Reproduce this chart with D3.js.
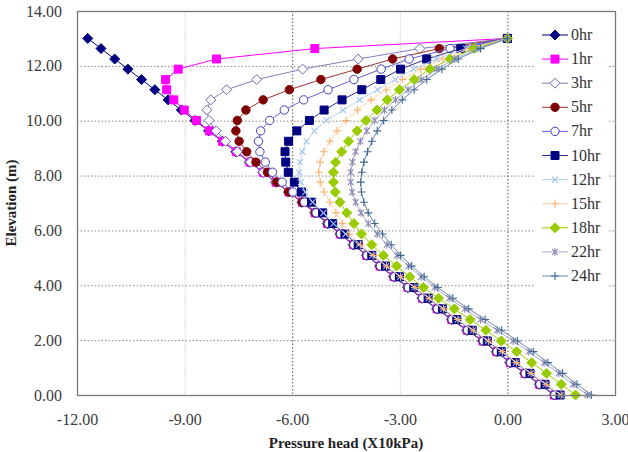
<!DOCTYPE html>
<html>
<head>
<meta charset="utf-8">
<script src="https://cdn.jsdelivr.net/npm/d3@7"></script>
<style>
  body { margin: 0; background: #fff; }
  svg text { font-family: "Liberation Serif", "DejaVu Serif", serif; }
</style>
</head>
<body>
<div id="my_dataviz"></div>
<script>
// node elevations (m), top to bottom
var elevation = [13.00, 12.63, 12.25, 11.88, 11.50, 11.13, 10.76, 10.39, 10.01, 9.63, 9.25, 8.87, 8.49, 8.12, 7.76, 7.40, 7.03, 6.64, 6.25, 5.87, 5.48, 5.09, 4.70, 4.31, 3.92, 3.53, 3.14, 2.75, 2.36, 1.97, 1.58, 1.18, 0.79, 0.39, 0.00];

// pressure head (X10kPa) for each time
var h0hr = [-11.70, -11.33, -10.95, -10.58, -10.20, -9.83, -9.46, -9.09, -8.71, -8.33, -7.95, -7.57, -7.19, -6.82, -6.46, -6.10, -5.73, -5.37, -5.02, -4.67, -4.30, -3.93, -3.56, -3.17, -2.78, -2.38, -1.97, -1.56, -1.13, -0.69, -0.31, 0.07, 0.48, 0.89, 1.30];
var h1hr = [0, -5.37, -8.11, -9.18, -9.53, -9.50, -9.30, -9.01, -8.67, -8.31, -7.94, -7.56, -7.18, -6.81, -6.45, -6.09, -5.72, -5.36, -5.01, -4.66, -4.29, -3.92, -3.55, -3.16, -2.77, -2.37, -1.96, -1.55, -1.12, -0.68, -0.30, 0.08, 0.49, 0.90, 1.31];
var h3hr = [0, -2.44, -4.16, -5.71, -6.99, -7.83, -8.27, -8.38, -8.32, -8.12, -7.86, -7.53, -7.17, -6.81, -6.45, -6.09, -5.72, -5.36, -5.01, -4.66, -4.29, -3.92, -3.55, -3.16, -2.77, -2.37, -1.96, -1.55, -1.12, -0.68, -0.30, 0.08, 0.49, 0.90, 1.31];
var h5hr = [0, -1.90, -3.20, -4.19, -5.20, -6.08, -6.81, -7.29, -7.53, -7.57, -7.48, -7.27, -7.01, -6.69, -6.43, -6.10, -5.72, -5.36, -5.01, -4.66, -4.29, -3.92, -3.55, -3.16, -2.77, -2.37, -1.96, -1.55, -1.12, -0.68, -0.30, 0.08, 0.49, 0.90, 1.31];
var h7hr = [0, -1.60, -2.74, -3.52, -4.28, -5.00, -5.68, -6.22, -6.63, -6.88, -6.94, -6.90, -6.75, -6.55, -6.28, -5.98, -5.66, -5.33, -4.99, -4.65, -4.28, -3.91, -3.54, -3.15, -2.76, -2.36, -1.95, -1.54, -1.11, -0.67, -0.29, 0.09, 0.50, 0.91, 1.32];
var h10hr = [0, -1.30, -2.25, -2.98, -3.53, -4.06, -4.61, -5.11, -5.52, -5.87, -6.10, -6.20, -6.18, -6.11, -5.94, -5.74, -5.46, -5.15, -4.87, -4.53, -4.16, -3.78, -3.40, -3.01, -2.61, -2.21, -1.81, -1.41, -0.98, -0.56, -0.17, 0.22, 0.63, 1.05, 1.47];
var h12hr = [0, -1.15, -1.98, -2.62, -3.12, -3.62, -4.12, -4.58, -5.05, -5.38, -5.60, -5.72, -5.78, -5.80, -5.76, -5.64, -5.43, -5.13, -4.85, -4.51, -4.14, -3.76, -3.38, -2.99, -2.59, -2.19, -1.79, -1.39, -0.96, -0.54, -0.15, 0.24, 0.65, 1.07, 1.49];
var h15hr = [0, -1.05, -1.80, -2.42, -2.92, -3.38, -3.80, -4.18, -4.50, -4.75, -4.95, -5.12, -5.22, -5.26, -5.22, -5.11, -4.95, -4.78, -4.60, -4.40, -4.10, -3.74, -3.37, -2.98, -2.58, -2.18, -1.78, -1.38, -0.95, -0.53, -0.14, 0.25, 0.66, 1.08, 1.50];
var h18hr = [0, -0.93, -1.60, -2.16, -2.60, -3.01, -3.35, -3.64, -3.94, -4.19, -4.43, -4.62, -4.79, -4.85, -4.85, -4.80, -4.67, -4.48, -4.28, -4.07, -3.78, -3.46, -3.09, -2.72, -2.34, -1.92, -1.48, -1.04, -0.60, -0.17, 0.26, 0.68, 1.09, 1.50, 1.90];
var h22hr = [0, -0.82, -1.47, -1.97, -2.40, -2.77, -3.12, -3.43, -3.70, -3.92, -4.10, -4.23, -4.32, -4.37, -4.37, -4.33, -4.23, -4.08, -3.88, -3.63, -3.36, -3.08, -2.76, -2.41, -2.03, -1.62, -1.19, -0.75, -0.29, 0.16, 0.60, 1.02, 1.43, 1.83, 2.23];
var h24hr = [0, -0.75, -1.37, -1.83, -2.25, -2.60, -2.93, -3.22, -3.45, -3.63, -3.78, -3.90, -4.00, -4.06, -4.09, -4.07, -4.00, -3.88, -3.70, -3.48, -3.24, -2.98, -2.67, -2.32, -1.94, -1.52, -1.08, -0.62, -0.16, 0.28, 0.72, 1.13, 1.54, 1.94, 2.34];

var seriesNames = ["0hr", "1hr", "3hr", "5hr", "7hr", "10hr", "12hr", "15hr", "18hr", "22hr", "24hr"];
var seriesValues = [h0hr, h1hr, h3hr, h5hr, h7hr, h10hr, h12hr, h15hr, h18hr, h22hr, h24hr];

var xTicks = [-12, -9, -6, -3, 0, 3];
var yTicks = [0, 2, 4, 6, 8, 10, 12, 14];

// look of each series: line colour, marker shape, marker fill, marker stroke
var styles = [
    { line: "#000080", shape: "diamond", fill: "#000080", stroke: "#000080" },
    { line: "#ff00ff", shape: "square", fill: "#ff00ff", stroke: "#ff00ff" },
    { line: "#8080c0", shape: "diamond", fill: "#ffffff", stroke: "#6a6ab0" },
    { line: "#a03030", shape: "circle", fill: "#800000", stroke: "#800000" },
    { line: "#6060d8", shape: "circle", fill: "#ffffff", stroke: "#4040c0" },
    { line: "#303090", shape: "square", fill: "#000080", stroke: "#000080" },
    { line: "#b8d4f0", shape: "x", fill: "none", stroke: "#a0c4ec" },
    { line: "#ffd4a8", shape: "plus", fill: "none", stroke: "#ffb070" },
    { line: "#99cc00", shape: "diamond", fill: "#99cc00", stroke: "#99cc00" },
    { line: "#a8a8cc", shape: "star", fill: "none", stroke: "#8888b4" },
    { line: "#6888b0", shape: "plus", fill: "none", stroke: "#406890" }
];

const widthValue = 628;
const heightValue = 452;
const plot = { left: 77, top: 11, right: 615, bottom: 395 };

var svg = d3.select("#my_dataviz")
    .append("svg")
    .attr("width", widthValue)
    .attr("height", heightValue);

var x = d3.scaleLinear().domain([-12, 3]).range([plot.left, plot.right]);
var y = d3.scaleLinear().domain([0, 14]).range([plot.bottom, plot.top]);

// tick labels use a plain hyphen for the minus sign
var fmt = d3.formatLocale({ decimal: ".", thousands: ",", grouping: [3], currency: ["", ""], minus: "-" }).format(".2f");

// horizontal grid
svg.append("g")
    .selectAll("line")
    .data(yTicks.slice(1, -1))
    .enter()
    .append("line")
    .attr("x1", plot.left).attr("x2", plot.right)
    .attr("y1", function(d) { return y(d) + 0.5 })
    .attr("y2", function(d) { return y(d) + 0.5 })
    .attr("stroke", "#8a8a8a")
    .attr("stroke-dasharray", "1.5,2");

// vertical grid (the -9 and 0 lines look much lighter in the original)
svg.append("g")
    .selectAll("line")
    .data(xTicks.slice(1, -1))
    .enter()
    .append("line")
    .attr("y1", plot.top).attr("y2", plot.bottom)
    .attr("x1", function(d) { return x(d) + 0.5 })
    .attr("x2", function(d) { return x(d) + 0.5 })
    .attr("stroke", function(d, i) { return i % 2 == 0 ? "#d8d8d8" : "#555" })
    .attr("stroke-dasharray", function(d, i) { return i % 2 == 0 ? "2,1" : "1.5,2" });

// marker paths
function markerPath(shape) {
    if (shape == "diamond") return "M0,-5L5,0L0,5L-5,0Z";
    if (shape == "square") return "M-4,-4H4V4H-4Z";
    if (shape == "circle") return "M4.2,0A4.2,4.2 0 1,1 -4.2,0A4.2,4.2 0 1,1 4.2,0Z";
    if (shape == "x") return "M-3,-3L3,3M-3,3L3,-3";
    if (shape == "star") return "M-3,-3L3,3M-3,3L3,-3M0,-4V4";
    return "M-4,0H4M0,-4V4";
}

var line = d3.line()
    .x(function(d) { return x(d.p) })
    .y(function(d) { return y(d.z) });

seriesValues.forEach(function(vals, i) {
    var st = styles[i];
    var pts = vals.map(function(v, k) { return { p: v, z: elevation[k] } });
    var g = svg.append("g");
    g.append("path")
        .datum(pts)
        .attr("d", line)
        .attr("fill", "none")
        .attr("stroke", st.line)
        .attr("stroke-width", 1);
    g.selectAll("path.mk")
        .data(pts)
        .enter()
        .append("path")
        .attr("class", "mk")
        .attr("transform", function(d) { return "translate(" + x(d.p) + "," + y(d.z) + ")" })
        .attr("d", markerPath(st.shape))
        .attr("fill", st.fill)
        .attr("stroke", st.stroke)
        .attr("stroke-width", st.fill == "none" ? 1.1 : 1);
});

// plot frame
svg.append("rect")
    .attr("x", plot.left + 0.5)
    .attr("y", plot.top + 0.5)
    .attr("width", plot.right - plot.left)
    .attr("height", plot.bottom - plot.top)
    .attr("fill", "none")
    .attr("stroke", "#7a7a7a")
    .attr("stroke-width", 1.3);

// axes (labels only, the frame draws the lines)
var xAxis = svg.append("g")
    .attr("transform", "translate(0," + plot.bottom + ")")
    .call(d3.axisBottom(x).tickValues(xTicks).tickFormat(fmt).tickSize(0).tickPadding(19));
var yAxis = svg.append("g")
    .attr("transform", "translate(" + plot.left + ",0)")
    .call(d3.axisLeft(y).tickValues(yTicks).tickFormat(fmt).tickSize(0).tickPadding(15));
[xAxis, yAxis].forEach(function(a) {
    a.select(".domain").remove();
    a.attr("font-family", null);
    a.selectAll("text")
        .attr("font-size", "16px")
        .attr("fill", "#3a3a3a");
});

// legend
var legend = svg.append("g");
legend.append("rect")
    .attr("x", 535).attr("y", 22)
    .attr("width", 72).attr("height", 268)
    .attr("fill", "#fff");
seriesNames.forEach(function(name, i) {
    var st = styles[i];
    var cy = 35 + i * 24.1;
    legend.append("line")
        .attr("x1", 542).attr("x2", 568)
        .attr("y1", cy).attr("y2", cy)
        .attr("stroke", st.line);
    legend.append("path")
        .attr("transform", "translate(555," + cy + ")")
        .attr("d", markerPath(st.shape))
        .attr("fill", st.fill)
        .attr("stroke", st.stroke)
        .attr("stroke-width", st.fill == "none" ? 1.1 : 1);
    legend.append("text")
        .attr("x", 571)
        .attr("y", cy + 5)
        .text(name)
        .attr("font-size", "16px")
        .attr("fill", "#333");
});

// axis titles
svg.append("text")
    .attr("x", (plot.left + plot.right) / 2)
    .attr("y", 448)
    .attr("text-anchor", "middle")
    .attr("font-weight", "bold")
    .attr("font-size", "15px")
    .attr("fill", "#222")
    .text("Pressure head (X10kPa)");

svg.append("text")
    .attr("transform", "translate(16," + (plot.top + plot.bottom) / 2 + ") rotate(-90)")
    .attr("text-anchor", "middle")
    .attr("font-weight", "bold")
    .attr("font-size", "15px")
    .attr("fill", "#222")
    .text("Elevation (m)");
</script>
</body>
</html>
